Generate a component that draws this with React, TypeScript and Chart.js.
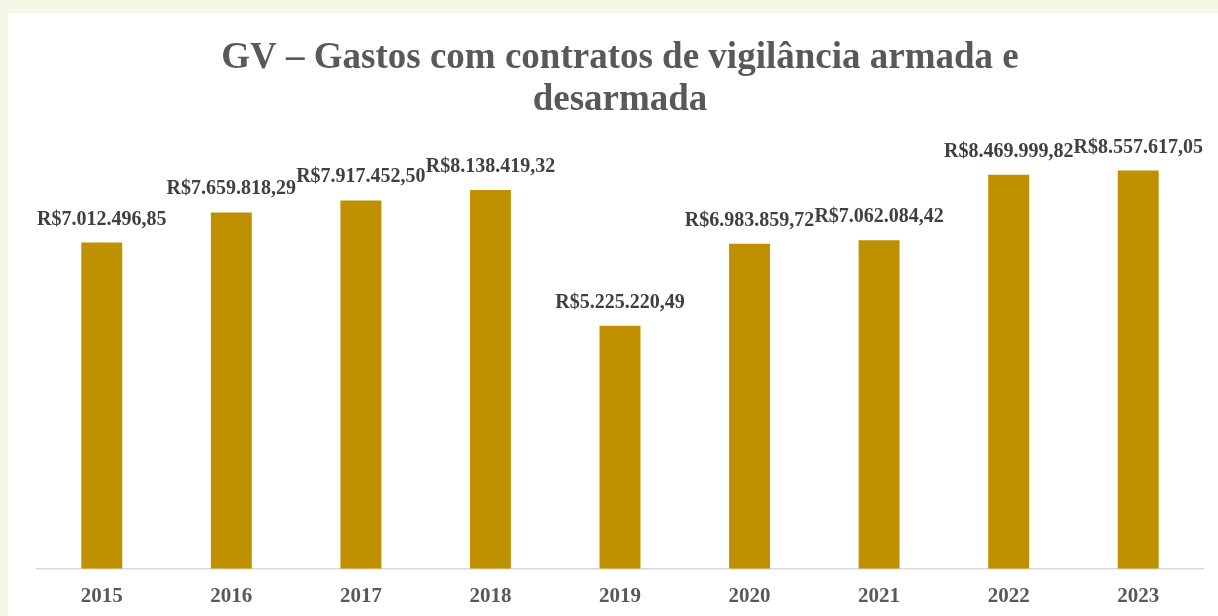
import React, { useEffect, useRef } from "react";
import { Chart, registerables } from "chart.js";

Chart.register(...registerables);

const titleLines = ["GV – Gastos com contratos de vigilância armada e", "desarmada"];
const years = ["2015", "2016", "2017", "2018", "2019", "2020", "2021", "2022", "2023"];
const gastos = [
  7012496.85, 7659818.29, 7917452.5, 8138419.32, 5225220.49, 6983859.72, 7062084.42, 8469999.82,
  8557617.05,
];

const fmt = (v: number) => {
  const [int, dec] = v.toFixed(2).split(".");
  const withDots = int.replace(/\B(?=(\d{3})+(?!\d))/g, ".");
  return "R$" + withDots + "," + dec;
};

const labelPlugin = {
  id: "barLabels",
  afterDatasetsDraw(chart: any) {
    const ctx = chart.ctx;
    const meta = chart.getDatasetMeta(0);
    ctx.save();
    ctx.font = "bold 20px 'Liberation Serif', serif";
    ctx.fillStyle = "#404040";
    ctx.textAlign = "center";
    ctx.textBaseline = "alphabetic";
    meta.data.forEach((bar: any, i: number) => {
      ctx.fillText(fmt(gastos[i]), bar.x, bar.y - 18);
    });
    ctx.restore();
  },
};

export default function App() {
  const ref = useRef<HTMLCanvasElement>(null);
  useEffect(() => {
    document.body.style.margin = "0";
    document.body.style.background = "#f5f8e6";
    const chart = new Chart(ref.current!, {
      type: "bar",
      data: {
        labels: years,
        datasets: [
          {
            data: gastos,
            backgroundColor: "#bf9000",
            categoryPercentage: 1,
            barPercentage: 0.316,
          },
        ],
      },
      options: {
        animation: false,
        responsive: false,
        layout: { padding: { left: 29, right: 15, top: 0, bottom: 0 } },
        plugins: {
          legend: { display: false },
          tooltip: { enabled: false },
          title: {
            display: true,
            text: titleLines,
            color: "#595959",
            font: { family: "'Liberation Serif', serif", size: 37, weight: "bold", lineHeight: 1.135 },
            padding: { top: 24, bottom: -17.5 },
          },
        },
        scales: {
          x: {
            grid: { display: false },
            border: { display: true, color: "#d9d9d9", width: 1.5 },
            ticks: {
              color: "#595959",
              font: { family: "'Liberation Serif', serif", size: 21, weight: "bold" },
              padding: 7,
            },
          },
          y: { display: false, min: 0, max: 10000000 },
        },
      },
      plugins: [labelPlugin],
    });
    return () => chart.destroy();
  }, []);
  return (
    <div
      style={{
        position: "absolute",
        left: 8,
        top: 13,
        width: 1210,
        height: 603,
        background: "#ffffff",
        overflow: "hidden",
      }}
    >
      <canvas ref={ref} width={1210} height={603} style={{ display: "block" }} />
    </div>
  );
}
